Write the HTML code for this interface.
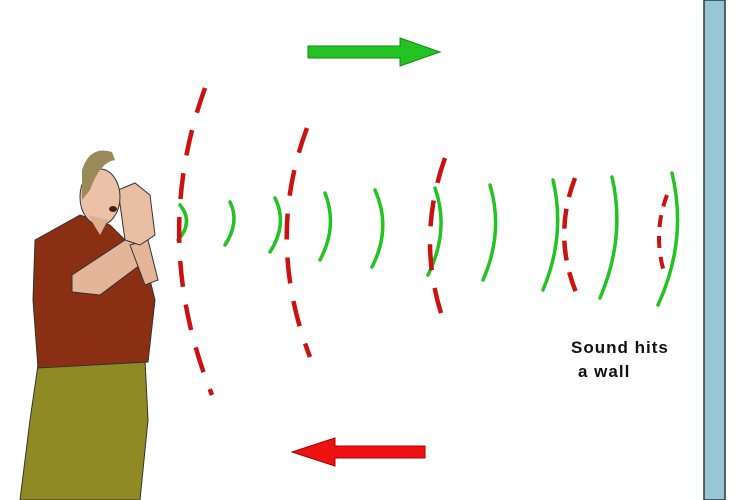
<!DOCTYPE html>
<html><head><meta charset="utf-8"><style>
html,body{margin:0;padding:0;background:#fff;}
svg{display:block;}
text{font-family:"Liberation Sans",sans-serif;}
</style></head><body>
<svg width="750" height="500" viewBox="0 0 750 500">
<rect width="750" height="500" fill="#fff"/>
<!-- wall -->
<rect x="704" y="0" width="21" height="500" fill="#98c6d5" stroke="#2a3a40" stroke-width="1.5"/>
<!-- green arrow -->
<polygon points="308,46 400,46 400,38 440,52 400,66 400,58 308,58" fill="#22c322" stroke="#178a17" stroke-width="1"/>
<!-- red arrow -->
<polygon points="425,446 335,446 335,438 292,452 335,466 335,458 425,458" fill="#ee1111" stroke="#a00" stroke-width="1"/>
<!-- green waves -->
<g fill="none" stroke="#22c322" stroke-width="3.5" stroke-linecap="round">
<path d="M180,205 Q194,222 178,240"/>
<path d="M230,202 Q240,222 225,245"/>
<path d="M275,198 Q288,224 270,252"/>
<path d="M325,193 Q338,226 320,260"/>
<path d="M375,190 Q392,228 372,267"/>
<path d="M435,188 Q450,230 428,275"/>
<path d="M490,185 Q504,232 483,280"/>
<path d="M553,180 Q566,235 543,290"/>
<path d="M612,177 Q626,237 600,298"/>
<path d="M672,173 Q688,240 658,305"/>
</g>
<!-- red dashed waves -->
<g fill="none" stroke="#cc1111" stroke-width="4.5" stroke-dasharray="26,18">
<path d="M205,88 Q150,240 212,395"/>
<path d="M307,128 Q265,240 310,357"/>
<path d="M445,158 Q415,242 445,325"/>
<path d="M575,178 Q552,238 578,297" stroke-dasharray="20,12"/>
<path d="M667,195 Q652,235 665,275" stroke-dasharray="12,9" stroke-width="4"/>
</g>
<!-- man -->
<g>
<path d="M20,500 L30,420 L38,365 L145,360 L148,420 L140,500 Z" fill="#8f8a24" stroke="#333" stroke-width="1"/>
<path d="M35,240 L80,215 L110,225 L135,250 L150,280 L155,300 L148,362 L38,368 L33,300 Z" fill="#8a2e14" stroke="#333" stroke-width="1"/>
<path d="M72,275 L125,240 L145,232 L140,265 L100,295 L72,292 Z" fill="#e5b59a" stroke="#333" stroke-width="1"/>
<path d="M130,245 L148,240 L158,280 L145,285 Z" fill="#e5b59a" stroke="#333" stroke-width="1"/>
<path d="M118,190 L135,183 L150,195 L155,235 L140,245 L125,240 Z" fill="#e8bfa3" stroke="#333" stroke-width="1"/>
<ellipse cx="100" cy="197" rx="20" ry="28" fill="#ebc2a8" stroke="#333" stroke-width="1"/>
<path d="M82,170 Q90,145 112,152 L115,160 Q100,162 90,190 L82,200 Z" fill="#9a8a5a"/>
<path d="M88,215 L108,220 L100,235 Z" fill="#dcae94"/>
<ellipse cx="113" cy="209" rx="4" ry="3" fill="#4a1c12"/>
</g>
<text x="571" y="353" font-size="17" font-weight="bold" letter-spacing="1" fill="#111">Sound hits</text>
<text x="578" y="377" font-size="17" font-weight="bold" letter-spacing="1" fill="#111">a wall</text>
</svg>
</body></html>
